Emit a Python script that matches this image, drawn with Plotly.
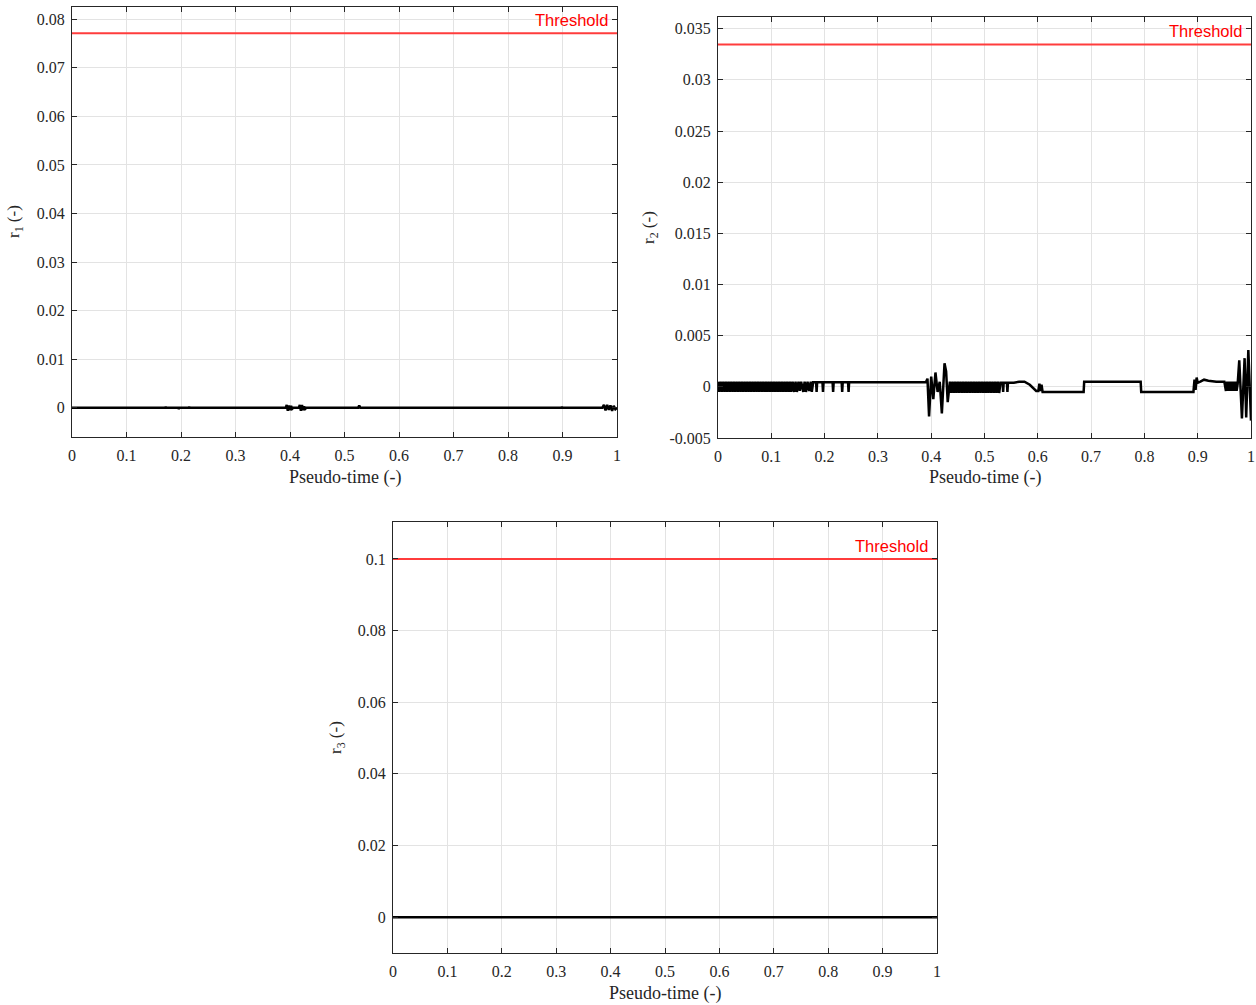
import plotly.graph_objects as go

W, H = 1256, 1005

# ---------------- data ----------------
x_ticks = [0, 0.1, 0.2, 0.3, 0.4, 0.5, 0.6, 0.7, 0.8, 0.9, 1]
x_tick_text = ["0", "0.1", "0.2", "0.3", "0.4", "0.5", "0.6", "0.7", "0.8", "0.9", "1"]

r1_y_ticks = [0, 0.01, 0.02, 0.03, 0.04, 0.05, 0.06, 0.07, 0.08]
r1_y_text = ["0", "0.01", "0.02", "0.03", "0.04", "0.05", "0.06", "0.07", "0.08"]
r2_y_ticks = [-0.005, 0, 0.005, 0.01, 0.015, 0.02, 0.025, 0.03, 0.035]
r2_y_text = ["-0.005", "0", "0.005", "0.01", "0.015", "0.02", "0.025", "0.03", "0.035"]
r3_y_ticks = [0, 0.02, 0.04, 0.06, 0.08, 0.1]
r3_y_text = ["0", "0.02", "0.04", "0.06", "0.08", "0.1"]

r1_threshold = 0.0771
r2_threshold = 0.03346
r3_threshold = 0.1

# r1 residual: zero with tiny blips
r1_t = [0.0, 0.171, 0.172, 0.173, 0.195, 0.196, 0.197, 0.214, 0.215, 0.216, 0.234, 0.235, 0.236,
        0.392, 0.394, 0.396, 0.398, 0.400, 0.402, 0.404, 0.406,
        0.416, 0.418, 0.420, 0.422, 0.424, 0.426, 0.428, 0.430,
        0.525, 0.527, 0.529, 0.898, 0.899, 0.900,
        0.973, 0.976, 0.979, 0.982, 0.985, 0.988, 0.991, 0.994, 0.997, 1.0]
r1_v = [0.0, 0.0, 0.0002, 0.0, 0.0, -0.0002, 0.0, 0.0, 0.0002, 0.0, 0.0, 0.0001, 0.0,
        0.0, 0.0006, -0.0006, 0.0005, -0.0005, 0.0004, -0.0002, 0.0,
        0.0, 0.0006, -0.0006, 0.0006, -0.0005, 0.0003, -0.0002, 0.0,
        0.0, 0.0005, 0.0, 0.0, 0.0002, 0.0,
        0.0, 0.0006, -0.0005, 0.0006, -0.0004, 0.0005, -0.0006, 0.0004, -0.0003, 0.0]

# r2 residual
r2_t = [
    0.0000, 0.0025, 0.0050, 0.0075, 0.0100, 0.0125, 0.0150, 0.0175, 0.0200, 0.0225,
    0.0250, 0.0275, 0.0300, 0.0325, 0.0350, 0.0375, 0.0400, 0.0425, 0.0450, 0.0475,
    0.0500, 0.0525, 0.0550, 0.0575, 0.0600, 0.0625, 0.0650, 0.0675, 0.0700, 0.0725,
    0.0750, 0.0775, 0.0800, 0.0825, 0.0850, 0.0875, 0.0900, 0.0925, 0.0950, 0.0975,
    0.1000, 0.1025, 0.1050, 0.1075, 0.1100, 0.1125, 0.1150, 0.1175, 0.1200, 0.1225,
    0.1250, 0.1275, 0.1300, 0.1325, 0.1350, 0.1375, 0.1400,
    0.1430, 0.1455, 0.1480, 0.1510, 0.1535, 0.1560, 0.1600, 0.1625, 0.1650, 0.1680,
    0.1710, 0.1740, 0.1760, 0.1785,
    0.1840, 0.1850, 0.1860, 0.1960, 0.1970, 0.1980, 0.2150, 0.2160, 0.2170,
    0.2320, 0.2330, 0.2340, 0.2440, 0.2450, 0.2460,
    0.3900, 0.3930, 0.3960, 0.4000, 0.4040, 0.4080, 0.4120, 0.4160, 0.4200, 0.4250,
    0.4280, 0.4310, 0.4350,
    0.4375, 0.4400, 0.4425, 0.4450, 0.4475, 0.4500, 0.4525, 0.4550, 0.4575, 0.4600,
    0.4625, 0.4650, 0.4675, 0.4700, 0.4725, 0.4750, 0.4775, 0.4800, 0.4825, 0.4850,
    0.4875, 0.4900, 0.4925, 0.4950, 0.4975, 0.5000, 0.5025, 0.5050, 0.5075, 0.5100,
    0.5125, 0.5150, 0.5175, 0.5200, 0.5225, 0.5250, 0.5275, 0.5300,
    0.5340, 0.5350, 0.5360, 0.5420, 0.5430, 0.5440,
    0.5550, 0.5650, 0.5750, 0.5850, 0.5920, 0.5970, 0.6010, 0.6030, 0.6050, 0.6070,
    0.6090, 0.6860, 0.6870, 0.7930, 0.7940, 0.8920, 0.8940, 0.8960, 0.8980, 0.9000,
    0.9050, 0.9120, 0.9200, 0.9350, 0.9500,
    0.9530, 0.9550, 0.9570, 0.9590, 0.9610, 0.9630, 0.9650, 0.9670, 0.9690, 0.9710,
    0.9730, 0.9750,
    0.9780, 0.9830, 0.9880, 0.9910, 0.9950, 1.0000,
]
r2_v = [
    0.0005, -0.0005, 0.0005, -0.0005, 0.0005, -0.0005, 0.0005, -0.0005, 0.0005, -0.0005,
    0.0005, -0.0005, 0.0005, -0.0005, 0.0005, -0.0005, 0.0005, -0.0005, 0.0005, -0.0005,
    0.0005, -0.0005, 0.0005, -0.0005, 0.0005, -0.0005, 0.0005, -0.0005, 0.0005, -0.0005,
    0.0005, -0.0005, 0.0005, -0.0005, 0.0005, -0.0005, 0.0005, -0.0005, 0.0005, -0.0005,
    0.0005, -0.0005, 0.0005, -0.0005, 0.0005, -0.0005, 0.0005, -0.0005, 0.0005, -0.0005,
    0.0005, -0.0005, 0.0005, -0.0005, 0.0005, -0.0005, 0.0005,
    -0.0005, 0.0005, -0.0005, 0.0005, -0.0004, 0.0005, -0.0005, 0.0005, -0.0005, 0.0005,
    -0.0004, 0.0005, -0.0005, 0.00045,
    0.00045, -0.0005, 0.00045, 0.00045, -0.0005, 0.00045, 0.00045, -0.0005, 0.00045,
    0.00045, -0.0005, 0.00045, 0.00045, -0.0005, 0.00045,
    0.00045, 0.0008, -0.0029, 0.0010, -0.0012, 0.0014, -0.0005, 0.0005, -0.0026, 0.0023,
    0.0015, -0.0015, 0.0005,
    -0.0006, 0.0005, -0.0006, 0.0005, -0.0006, 0.0005, -0.0006, 0.0005, -0.0006, 0.0005,
    -0.0006, 0.0005, -0.0006, 0.0005, -0.0006, 0.0005, -0.0006, 0.0005, -0.0006, 0.0005,
    -0.0006, 0.0005, -0.0006, 0.0005, -0.0006, 0.0005, -0.0006, 0.0005, -0.0006, 0.0005,
    -0.0006, 0.0005, -0.0006, 0.0005, -0.0006, 0.0005, -0.0006, 0.0004,
    0.0004, -0.0005, 0.0004, 0.0004, -0.0005, 0.0004,
    0.0004, 0.0005, 0.0005, 0.0002, -0.0002, -0.0004, -0.0004, 0.0003, -0.0004, 0.0002,
    -0.0005, -0.0005, 0.0005, 0.0005, -0.0005, -0.0005, 0.0007, -0.0003, 0.0009, 0.0004,
    0.0005, 0.0007, 0.0006, 0.0005, 0.0005,
    -0.0004, 0.0005, -0.0004, 0.0005, -0.0004, 0.0005, -0.0004, 0.0005, -0.0004, 0.0005,
    -0.0004, 0.0003,
    0.0026, -0.0031, 0.0028, -0.0030, 0.0036, -0.0033,
]

# r3 residual: identically zero
r3_t = [0.0, 1.0]
r3_v = [0.0, 0.0]

# ---------------- figure ----------------
def px_x(p):
    return p / W

def px_y(p):
    return 1 - p / H

panels = [
    (r1_t, r1_v, r1_threshold, r1_y_ticks, r1_y_text, [-0.006, 0.0825], (72, 617), (7, 437), "r<sub>1</sub> (-)", (15, 222), (345, 477)),
    (r2_t, r2_v, r2_threshold, r2_y_ticks, r2_y_text, [-0.005, 0.03614], (718, 1251), (17, 438), "r<sub>2</sub> (-)", (650, 228), (985, 477)),
    (r3_t, r3_v, r3_threshold, r3_y_ticks, r3_y_text, [-0.01, 0.1103], (393, 937), (522, 953), "r<sub>3</sub> (-)", (337, 738), (665, 993)),
]

fig = go.Figure()
layout = dict(
    width=W, height=H, autosize=False,
    margin=dict(l=0, r=0, t=0, b=0, pad=0),
    paper_bgcolor="white", plot_bgcolor="white",
    showlegend=False,
    font=dict(family="Liberation Serif, Times New Roman, serif", size=16, color="#262626"),
)
annotations = []
axis_line = "#262626"
grid_col = "#e3e3e3"

for i, (t, v, thr, yt, ytxt, yr, xd, yd, ylab, ylpos, xlpos) in enumerate(panels):
    n = "" if i == 0 else str(i + 1)
    xa, ya = "x" + n, "y" + n
    fig.add_trace(go.Scatter(x=t, y=v, mode="lines", line=dict(color="black", width=2.5),
                             xaxis=xa, yaxis=ya, hoverinfo="skip"))
    fig.add_trace(go.Scatter(x=[0, 1], y=[thr, thr], mode="lines",
                             line=dict(color="rgb(255,60,60)", width=2),
                             xaxis=xa, yaxis=ya, hoverinfo="skip"))
    layout["xaxis" + n] = dict(
        domain=[px_x(xd[0]), px_x(xd[1])], anchor=ya, range=[0, 1],
        tickvals=x_ticks, ticktext=x_tick_text, ticks="inside", ticklen=5,
        tickcolor=axis_line, showline=True, linecolor=axis_line, linewidth=1,
        mirror="ticks", showgrid=True, gridcolor=grid_col, gridwidth=1,
        zeroline=False, fixedrange=True, tickfont=dict(size=16), automargin=False,
        ticklabelstandoff=4,
    )
    layout["yaxis" + n] = dict(
        domain=[px_y(yd[1]), px_y(yd[0])], anchor=xa, range=yr,
        tickvals=yt, ticktext=ytxt, ticks="inside", ticklen=5,
        tickcolor=axis_line, showline=True, linecolor=axis_line, linewidth=1,
        mirror="ticks", showgrid=True, gridcolor=grid_col, gridwidth=1,
        zeroline=False, fixedrange=True, tickfont=dict(size=16), automargin=False,
        ticklabelstandoff=3,
    )
    annotations.append(dict(
        xref=xa, yref=ya, x=1, y=thr,
        xanchor="right", yanchor="bottom", xshift=-7, yshift=2,
        text="Threshold", showarrow=False,
        font=dict(family="Liberation Sans, Arial, sans-serif", size=16.5, color="rgb(255,0,0)"),
    ))
    annotations.append(dict(
        xref="paper", yref="paper", x=px_x(ylpos[0]), y=px_y(ylpos[1]),
        xanchor="center", yanchor="middle", textangle=-90, text=ylab, showarrow=False,
        font=dict(family="Liberation Serif, Times New Roman, serif", size=17, color="#262626"),
    ))
    annotations.append(dict(
        xref="paper", yref="paper", x=px_x(xlpos[0]), y=px_y(xlpos[1]),
        xanchor="center", yanchor="middle", text="Pseudo-time (-)", showarrow=False,
        font=dict(family="Liberation Serif, Times New Roman, serif", size=18, color="#262626"),
    ))

layout["annotations"] = annotations
fig.update_layout(**layout)
fig.write_html(
    "out.html",
    config={"displayModeBar": False, "staticPlot": True, "responsive": False},
    post_script=(
        "document.documentElement.style.margin='0';"
        "document.documentElement.style.padding='0';"
        "document.documentElement.style.overflow='hidden';"
        "document.body.style.margin='0';"
        "document.body.style.padding='0';"
        "document.body.style.overflow='hidden';"
    ),
)
